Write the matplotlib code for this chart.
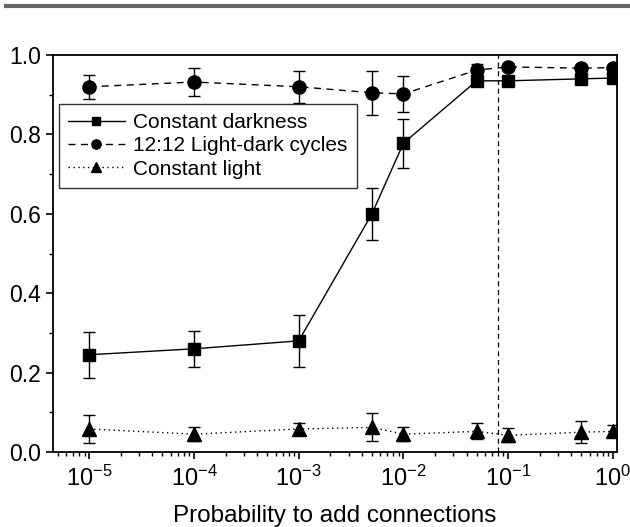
import matplotlib
matplotlib.use("Agg")
import matplotlib.pyplot as plt
from matplotlib.ticker import LogLocator, MultipleLocator, NullFormatter, FuncFormatter
import numpy as np

plt.rcParams["font.family"] = ["Liberation Sans", "DejaVu Sans"]
plt.rcParams["mathtext.default"] = "regular"

# data
prob = [1e-5, 1e-4, 1e-3, 5e-3, 1e-2, 5e-2, 1e-1, 5e-1, 1.0]

dark = [0.245, 0.260, 0.280, 0.600, 0.778, 0.935, 0.935, 0.940, 0.942]
dark_err = [0.058, 0.045, 0.065, 0.065, 0.062, 0.010, 0.008, 0.008, 0.008]

ld = [0.920, 0.932, 0.920, 0.905, 0.902, 0.962, 0.970, 0.967, 0.968]
ld_err = [0.030, 0.035, 0.040, 0.055, 0.045, 0.015, 0.008, 0.008, 0.008]

light = [0.058, 0.045, 0.058, 0.062, 0.045, 0.052, 0.042, 0.050, 0.052]
light_err = [0.035, 0.018, 0.015, 0.035, 0.018, 0.020, 0.018, 0.028, 0.015]

threshold = 0.08

fig = plt.figure(figsize=(6.3, 5.27), dpi=100)
# grey rule at the top of the figure
fig.add_artist(plt.Line2D([0.01, 1], [0.988, 0.988], color="#666666", lw=3))

ax = fig.add_axes([0.0841, 0.1423, 0.895, 0.7533])

series = [
    (dark, dark_err, "-", "s", 8, "Constant darkness"),
    (ld, ld_err, (0, (5, 4)), "o", 9.5, "12:12 Light-dark cycles"),
    (light, light_err, (0, (1, 2.5)), "^", 9.5, "Constant light"),
]
for vals, errs, ls, mk, ms, lab in series:
    ax.errorbar(prob, vals, yerr=errs, fmt="none", ecolor="black", elinewidth=1, capsize=4)
    ax.plot(prob, vals, color="black", ls=ls, lw=1, marker=mk, ms=ms, label=lab)

ax.axvline(threshold, color="black", ls=(0, (4, 3)), lw=0.9)

ax.set_xscale("log")
ax.set_xlim(4.5e-6, 1.09)
ax.set_ylim(0, 1.0)
ax.yaxis.set_major_locator(MultipleLocator(0.2))
ax.yaxis.set_minor_locator(MultipleLocator(0.1))
ax.yaxis.set_major_formatter(FuncFormatter(lambda v, p: f"{v:.1f}"))
ax.xaxis.set_major_locator(LogLocator(base=10, numticks=10))
ax.xaxis.set_minor_locator(LogLocator(base=10, subs=range(2, 10), numticks=100))
ax.xaxis.set_minor_formatter(NullFormatter())
ax.xaxis.set_major_formatter(FuncFormatter(lambda v, p: f"10$^{{{int(round(np.log10(v)))}}}$"))

ax.tick_params(which="both", direction="out", top=False, right=False)
ax.tick_params(axis="y", labelsize=16.5)
ax.tick_params(axis="x", labelsize=17, pad=5)
ax.tick_params(which="major", length=5, width=1.2)
ax.tick_params(which="minor", length=3, width=1)
for s in ax.spines.values():
    s.set_linewidth(1.3)

ax.set_xlabel("Probability to add connections", fontsize=17.5, labelpad=10)

leg = ax.legend(loc="upper left", bbox_to_anchor=(0.0106, 0.877), borderaxespad=0,
                fontsize=15, frameon=True, fancybox=False, edgecolor="black",
                handlelength=2.7, handletextpad=0.4, borderpad=0.45,
                labelspacing=0.2, markerscale=0.7)
leg.get_frame().set_linewidth(1)

plt.savefig("out.png", dpi=100)
